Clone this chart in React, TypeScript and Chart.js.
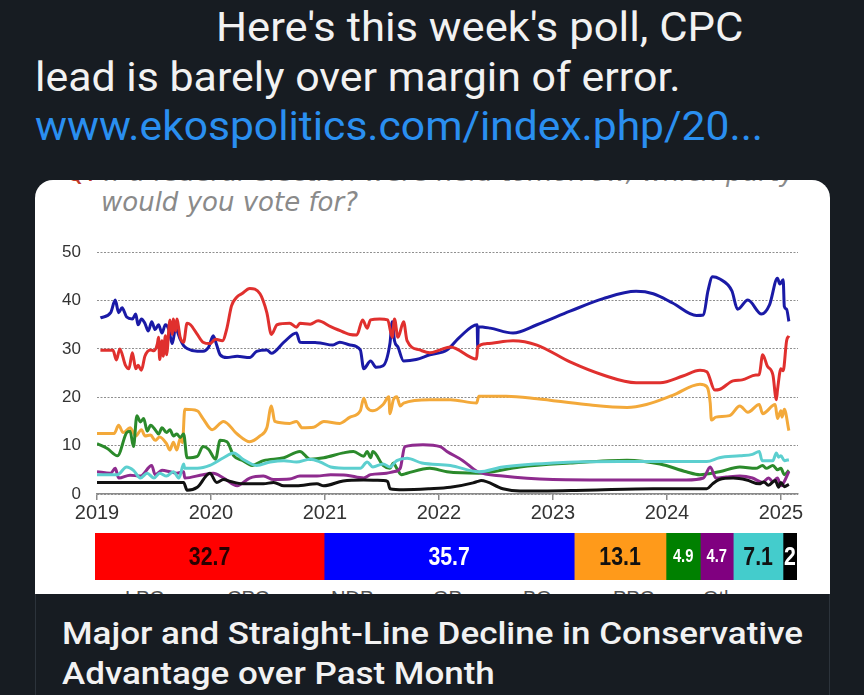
import React, { useEffect, useRef } from "react";
import { Chart, registerables } from "chart.js";
Chart.register(...registerables);

// ---------- data ----------
const YEAR_TICKS = [2019, 2020, 2021, 2022, 2023, 2024, 2025];
const X_MIN = 2019;
const X_MAX = 2025.15;
const Y_MIN = 0;
const Y_MAX = 50;
const Y_STEP = 10;

const PARTIES = ["LPC", "CPC", "NDP", "GP", "BQ", "PPC", "Other"];
const LATEST = [32.7, 35.7, 13.1, 4.9, 4.7, 7.1, 2];

const LPC: [number, number][] = [
  [2019.03, 29.7], [2019.14, 29.7], [2019.17, 27.7], [2019.2, 30], [2019.25, 26.6], [2019.28, 25.9],
  [2019.31, 29.2], [2019.34, 25.9], [2019.36, 26.6], [2019.39, 25.6], [2019.42, 28.5], [2019.47, 29.8],
  [2019.5, 29.6], [2019.53, 31.1], [2019.54, 32.4], [2019.55, 27.8], [2019.57, 31.7], [2019.58, 28.5],
  [2019.6, 32.7], [2019.61, 28.8], [2019.64, 36], [2019.66, 33], [2019.67, 36.2], [2019.69, 33.7],
  [2019.7, 36.2], [2019.73, 32.4], [2019.76, 31.4], [2019.79, 35.3], [2019.82, 35], [2019.88, 33],
  [2019.93, 31.4], [2019.99, 31.1], [2020.04, 32], [2020.1, 31.7], [2020.14, 34.3], [2020.18, 38.9],
  [2020.23, 40.8], [2020.27, 41.4], [2020.34, 42.5], [2020.43, 41.4], [2020.49, 37.5], [2020.53, 33],
  [2020.58, 35], [2020.69, 35.3], [2020.75, 34.5], [2020.78, 35.3], [2020.87, 35.1], [2020.94, 35.8],
  [2021.05, 34.6], [2021.16, 33.5], [2021.22, 33], [2021.28, 32.9], [2021.33, 36], [2021.37, 34.3],
  [2021.4, 36], [2021.48, 36.2], [2021.55, 36], [2021.59, 32.4], [2021.61, 36.2], [2021.64, 32.4],
  [2021.69, 35.6], [2021.72, 31.7], [2021.83, 29.8], [2021.92, 29.2], [2022.01, 29.8], [2022.1, 30.4],
  [2022.33, 27.9], [2022.34, 30.4], [2022.42, 31.1], [2022.65, 31.7], [2022.86, 30.8], [2023.15, 27.3],
  [2023.44, 24.6], [2023.73, 23], [2023.94, 23], [2024.14, 24.4], [2024.29, 25.6], [2024.35, 25.3],
  [2024.42, 21.5], [2024.46, 21.6], [2024.58, 23.4], [2024.66, 23.6], [2024.78, 24.6], [2024.81, 24.7],
  [2024.84, 28.8], [2024.88, 26.5], [2024.93, 24.6], [2024.96, 19.5], [2024.97, 21.5], [2025.0, 25.9],
  [2025.02, 25.5], [2025.05, 31.7], [2025.07, 32.7],
];

const CPC: [number, number][] = [
  [2019.03, 36.4], [2019.12, 37.5], [2019.16, 40.1], [2019.19, 37.5], [2019.22, 38.5], [2019.26, 36.6],
  [2019.31, 36.2], [2019.34, 37.2], [2019.36, 35], [2019.39, 36.2], [2019.42, 35.3], [2019.45, 33.7],
  [2019.48, 35.6], [2019.51, 34], [2019.54, 35], [2019.57, 33.3], [2019.6, 35], [2019.63, 34],
  [2019.66, 31.1], [2019.69, 34.3], [2019.71, 33.3], [2019.73, 32], [2019.76, 30.7], [2019.79, 30.1],
  [2019.88, 29.5], [2019.93, 29.5], [2019.98, 30.4], [2020.02, 32.7], [2020.05, 30.8], [2020.08, 28.8],
  [2020.14, 28.2], [2020.23, 28.5], [2020.34, 28.2], [2020.4, 29.5], [2020.49, 29.8], [2020.53, 29.1],
  [2020.64, 31.4], [2020.75, 33.3], [2020.78, 31.4], [2020.93, 31.3], [2021.07, 30.8], [2021.13, 31.4],
  [2021.22, 30.8], [2021.31, 29.8], [2021.34, 25.9], [2021.4, 27.5], [2021.45, 26.2], [2021.51, 26.5],
  [2021.57, 31.1], [2021.59, 35.6], [2021.61, 31.7], [2021.64, 30.4], [2021.69, 27.5], [2021.8, 27.8],
  [2021.92, 28.8], [2022.07, 29.8], [2022.18, 32.4], [2022.335, 35], [2022.34, 30.4], [2022.345, 34.6],
  [2022.45, 34.3], [2022.65, 33.3], [2022.86, 35], [2023.15, 37.8], [2023.44, 40.4], [2023.73, 41.9],
  [2023.88, 41.4], [2024.05, 39.5], [2024.26, 36.9], [2024.32, 37], [2024.36, 42], [2024.4, 44.9],
  [2024.46, 44.5], [2024.57, 42], [2024.62, 38.2], [2024.71, 40.1], [2024.83, 37.2], [2024.9, 39.1],
  [2024.97, 44.6], [2024.99, 43.4], [2025.02, 44.3], [2025.03, 38.8], [2025.05, 38.2], [2025.07, 35.7],
];

const NDP: [number, number][] = [
  [2019.0, 12.5], [2019.15, 12.5], [2019.19, 14.2], [2019.23, 12.7], [2019.29, 13.7], [2019.34, 12],
  [2019.39, 13.3], [2019.42, 12], [2019.47, 12.2], [2019.51, 11.1], [2019.55, 11.8], [2019.61, 10.4],
  [2019.64, 9.1], [2019.67, 10.7], [2019.7, 9.1], [2019.73, 11.5], [2019.75, 10.6], [2019.77, 17.5],
  [2019.88, 17.2], [2019.93, 15.6], [2020.01, 13.3], [2020.11, 15], [2020.23, 12.4], [2020.34, 10.8],
  [2020.43, 12], [2020.49, 13.7], [2020.53, 18.2], [2020.56, 15], [2020.69, 14.6], [2020.75, 15],
  [2020.8, 13.7], [2020.9, 13.8], [2020.99, 15], [2021.13, 14.6], [2021.22, 15.9], [2021.31, 17.2],
  [2021.34, 19.8], [2021.37, 17.9], [2021.42, 17.2], [2021.51, 18.5], [2021.56, 20.1], [2021.57, 16.6],
  [2021.6, 19.5], [2021.63, 20.1], [2021.66, 18.2], [2021.69, 18.8], [2021.92, 19.5], [2022.1, 19.5],
  [2022.33, 18.8], [2022.35, 20.2], [2022.59, 20.2], [2022.86, 19.7], [2023.29, 18.5], [2023.65, 17.9],
  [2023.82, 18.5], [2024.05, 20.4], [2024.29, 22.7], [2024.35, 22.2], [2024.38, 18.8], [2024.39, 15.3],
  [2024.43, 15.9], [2024.55, 16.2], [2024.64, 18.2], [2024.71, 16.9], [2024.81, 18.5], [2024.84, 16.6],
  [2024.95, 18.5], [2024.97, 15.6], [2025.0, 17.2], [2025.01, 15.9], [2025.03, 17.5], [2025.07, 13.1],
];

const GP: [number, number][] = [
  [2019.0, 10.4], [2019.09, 9.4], [2019.18, 7.9], [2019.26, 12.7], [2019.29, 13], [2019.32, 9.8],
  [2019.35, 16.2], [2019.38, 14.9], [2019.41, 15.6], [2019.44, 13], [2019.47, 14.2], [2019.51, 13.3],
  [2019.54, 12.4], [2019.57, 13.7], [2019.61, 12.7], [2019.64, 13.3], [2019.67, 12], [2019.7, 12.4],
  [2019.73, 11.7], [2019.76, 12.4], [2019.79, 7.5], [2019.88, 7.8], [2019.93, 9.8], [2019.98, 9.2],
  [2020.04, 7.2], [2020.08, 11.1], [2020.14, 10.8], [2020.2, 7.9], [2020.28, 6.9], [2020.36, 5.9],
  [2020.46, 6.9], [2020.64, 7.5], [2020.78, 8.8], [2020.87, 7.2], [2020.99, 7.5], [2021.16, 8.5],
  [2021.25, 8.8], [2021.34, 7.8], [2021.37, 8.8], [2021.4, 7.5], [2021.42, 8.8], [2021.51, 5.9],
  [2021.57, 5.3], [2021.6, 6.4], [2021.63, 5.3], [2021.67, 4], [2021.72, 4.3], [2021.92, 5.3],
  [2022.07, 4.6], [2022.35, 4.3], [2022.71, 5.6], [2023.15, 6.4], [2023.65, 7], [2023.94, 6.2],
  [2024.17, 4.6], [2024.29, 4], [2024.46, 4.6], [2024.64, 5.6], [2024.78, 5.3], [2024.84, 5.9],
  [2024.87, 5.3], [2024.93, 5.9], [2024.97, 5], [2025.0, 5.3], [2025.03, 4], [2025.07, 4.9],
];

const BQ: [number, number][] = [
  [2019.0, 4.6], [2019.12, 4.3], [2019.16, 5.3], [2019.19, 3.3], [2019.29, 3.9], [2019.38, 3.7],
  [2019.48, 5.9], [2019.51, 4], [2019.57, 4.9], [2019.64, 4.6], [2019.7, 4.3], [2019.76, 4.6],
  [2019.77, 3.3], [2019.93, 4], [2020.02, 4.3], [2020.11, 3.3], [2020.23, 1.7], [2020.34, 3.3],
  [2020.46, 3.7], [2020.55, 3], [2020.69, 3.1], [2020.78, 3.7], [2020.93, 3.7], [2021.05, 4],
  [2021.19, 3.9], [2021.34, 3.3], [2021.4, 4], [2021.54, 4.3], [2021.6, 4.6], [2021.66, 5.3],
  [2021.7, 9.8], [2021.86, 10.2], [2022.01, 9.8], [2022.07, 8.8], [2022.21, 6.9], [2022.34, 4.6],
  [2022.56, 3.7], [2023.0, 3], [2023.59, 2.9], [2024.17, 2.9], [2024.32, 3.3], [2024.38, 5.6],
  [2024.43, 3.3], [2024.52, 3.5], [2024.64, 3.7], [2024.75, 3.3], [2024.84, 2.4], [2024.89, 3.3],
  [2024.93, 2.6], [2024.97, 3.3], [2025.0, 1.7], [2025.03, 2.6], [2025.07, 4.7],
];

const PPC: [number, number][] = [
  [2019.0, 4], [2019.18, 4], [2019.26, 5.6], [2019.32, 4.9], [2019.38, 3.3], [2019.44, 4.3],
  [2019.5, 3.3], [2019.55, 4.3], [2019.61, 3.7], [2019.67, 4.6], [2019.72, 3.3], [2019.76, 6.2],
  [2019.77, 5.3], [2019.88, 5.3], [2019.99, 5.9], [2020.11, 7.5], [2020.2, 8.5], [2020.28, 7.2],
  [2020.4, 5.9], [2020.52, 6.6], [2020.64, 6.9], [2020.75, 6.6], [2020.87, 7.2], [2020.96, 6.6],
  [2021.05, 5.6], [2021.22, 5.3], [2021.31, 5.3], [2021.37, 6.6], [2021.42, 5.6], [2021.51, 6.2],
  [2021.57, 5.6], [2021.63, 6.9], [2021.72, 7.4], [2021.85, 6.4], [2022.1, 5.9], [2022.35, 4.6],
  [2022.56, 5.6], [2023.0, 6.4], [2023.59, 6.7], [2024.35, 6.7], [2024.46, 7.5], [2024.64, 7.9],
  [2024.75, 8.2], [2024.81, 8.8], [2024.835, 6.9], [2024.93, 6.9], [2024.96, 8.5], [2024.98, 7.6],
  [2025.0, 7.9], [2025.03, 6.9], [2025.07, 7.1],
];

const OTHER: [number, number][] = [
  [2019.0, 2.4], [2019.76, 2.4], [2019.79, 0.8], [2019.88, 1.4], [2019.99, 4.3], [2020.05, 2.4],
  [2020.11, 3], [2020.17, 2.6], [2020.28, 2.1], [2020.46, 2.1], [2020.55, 2.4], [2020.64, 1.7],
  [2020.75, 1.7], [2020.93, 2.1], [2020.99, 1.7], [2021.16, 2.7], [2021.34, 2.9], [2021.51, 2.8],
  [2021.55, 2.6], [2021.57, 1.1], [2021.69, 0.9], [2021.92, 1.1], [2022.1, 1.4], [2022.3, 2.3],
  [2022.34, 2.6], [2022.37, 2.8], [2022.56, 1.1], [2022.71, 0.6], [2023.29, 0.8], [2023.88, 1.1],
  [2024.35, 1.1], [2024.4, 2.1], [2024.46, 3], [2024.58, 3.3], [2024.7, 2.9], [2024.81, 2.1],
  [2024.85, 2.5], [2024.89, 1.8], [2024.95, 2.8], [2024.98, 1.4], [2025.0, 2.4], [2025.03, 1.5],
  [2025.07, 2],
];

// ---------- styles ----------
const LINE_COLORS: Record<string, string> = {
  LPC: "#e0302e",
  CPC: "#1a1aa6",
  NDP: "#f3a93a",
  GP: "#2b8a2b",
  BQ: "#8e2b8e",
  PPC: "#5ccfcf",
  Other: "#111111",
};
const BAR_COLORS = ["#ff0000", "#0000ff", "#ff9a1a", "#008000", "#800080", "#44cccc", "#000000"];
const BAR_TEXT = ["#2a0000", "#ffffff", "#111111", "#ffffff", "#ffffff", "#111111", "#ffffff"];

const SERIES: { name: string; pts: [number, number][] }[] = [
  { name: "Other", pts: OTHER },
  { name: "PPC", pts: PPC },
  { name: "BQ", pts: BQ },
  { name: "GP", pts: GP },
  { name: "NDP", pts: NDP },
  { name: "LPC", pts: LPC },
  { name: "CPC", pts: CPC },
];

const BG = "#171c22";

function LineChart() {
  const ref = useRef<HTMLCanvasElement | null>(null);
  useEffect(() => {
    if (!ref.current) return;
    const chart = new Chart(ref.current, {
      type: "line",
      data: {
        datasets: SERIES.map((s) => ({
          label: s.name,
          data: s.pts.map(([x, y]) => ({ x, y })),
          borderColor: LINE_COLORS[s.name],
          backgroundColor: LINE_COLORS[s.name],
          borderWidth: 3,
          pointRadius: 0,
          cubicInterpolationMode: "monotone" as const,
          fill: false,
        })),
      },
      options: {
        animation: false,
        responsive: false,
        maintainAspectRatio: false,
        plugins: { legend: { display: false }, tooltip: { enabled: false } },
        layout: { padding: { top: 10, right: 32, left: 0, bottom: 0 } },
        scales: {
          x: {
            type: "linear",
            min: X_MIN,
            max: X_MAX,
            afterBuildTicks: (s: any) => {
              s.ticks = YEAR_TICKS.map((v) => ({ value: v }));
            },
            afterFit: (s: any) => {
              s.height = 32;
            },
            ticks: {
              callback: (v: any) => String(v),
              font: { family: "'Liberation Sans', Arial, sans-serif", size: 20 },
              color: "#333",
              padding: 1,
              maxRotation: 0,
              autoSkip: false,
            },
            grid: { drawOnChartArea: false, drawTicks: true, tickLength: 6, color: "#8a8a8a", lineWidth: 1.5 },
            border: { display: true, color: "#8a8a8a", width: 1.5 },
          },
          y: {
            min: Y_MIN,
            max: Y_MAX,
            afterFit: (s: any) => {
              s.width = 62;
            },
            ticks: {
              stepSize: Y_STEP,
              font: { family: "'Liberation Sans', Arial, sans-serif", size: 17 },
              color: "#333",
              padding: 16,
            },
            grid: { color: "#8f8f8f", drawTicks: false, lineWidth: 1 },
            border: { display: false, dash: [2, 1.5] },
          },
        },
      },
    });
    return () => chart.destroy();
  }, []);
  return (
    <canvas
      ref={ref}
      width={795}
      height={300}
      style={{ position: "absolute", left: 0, top: 46, width: 795, height: 300, display: "block" }}
    />
  );
}

const barLabelPlugin = {
  id: "barLabels",
  afterDatasetsDraw(chart: any) {
    const ctx = chart.ctx;
    chart.data.datasets.forEach((ds: any, i: number) => {
      const meta = chart.getDatasetMeta(i);
      const el = meta.data[0];
      if (!el) return;
      const text = String(ds.data[0]);
      const w = Math.abs(el.x - el.base);
      const cx = (el.x + el.base) / 2;
      const size = w < 40 && text.length > 1 ? 18 : 26;
      ctx.save();
      ctx.translate(cx, el.y + 1);
      ctx.scale(0.82, 1);
      ctx.font = `bold ${size}px 'Liberation Sans', Arial, sans-serif`;
      ctx.fillStyle = BAR_TEXT[i];
      ctx.textAlign = "center";
      ctx.textBaseline = "middle";
      ctx.fillText(text, 0, 0);
      ctx.restore();
    });
  },
};

function BarChart() {
  const ref = useRef<HTMLCanvasElement | null>(null);
  useEffect(() => {
    if (!ref.current) return;
    const total = LATEST.reduce((a, b) => a + b, 0);
    const chart = new Chart(ref.current, {
      type: "bar",
      data: {
        labels: [""],
        datasets: PARTIES.map((p, i) => ({
          label: p,
          data: [LATEST[i]],
          backgroundColor: BAR_COLORS[i],
          borderWidth: 0,
          barPercentage: 1,
          categoryPercentage: 1,
        })),
      },
      options: {
        indexAxis: "y",
        animation: false,
        responsive: false,
        maintainAspectRatio: false,
        plugins: { legend: { display: false }, tooltip: { enabled: false } },
        layout: { padding: 0 },
        scales: {
          x: { stacked: true, min: 0, max: total, display: false },
          y: { stacked: true, display: false },
        },
      },
      plugins: [barLabelPlugin],
    });
    return () => chart.destroy();
  }, []);
  return (
    <canvas
      ref={ref}
      width={702}
      height={47}
      style={{ position: "absolute", left: 60, top: 353, width: 702, height: 47, display: "block" }}
    />
  );
}

const PARTY_LABEL_X = [90, 192, 296, 398, 488, 578, 668];

export default function App() {
  useEffect(() => {
    document.body.style.margin = "0";
    document.body.style.background = BG;
  }, []);
  const tweetFont = "Roboto, 'Noto Sans', sans-serif";
  const tweetLine = (left: number, top: number, color: string, sx: number) => ({
    position: "absolute" as const,
    left,
    top,
    fontSize: 40,
    lineHeight: "48px",
    color,
    whiteSpace: "nowrap" as const,
    transform: `scaleX(${sx})`,
    transformOrigin: "0 0",
  });
  return (
    <div
      style={{
        position: "absolute",
        left: 0,
        top: 0,
        width: 864,
        height: 695,
        background: BG,
        overflow: "hidden",
        fontFamily: tweetFont,
      }}
    >
      <div style={tweetLine(216, 4, "#f2f2f2", 1.09)}>Here's this week's poll, CPC</div>
      <div style={tweetLine(35, 54, "#f2f2f2", 1.072)}>lead is barely over margin of error.</div>
      <div style={tweetLine(35, 103, "#2a8ff0", 1.064)}>www.ekospolitics.com/index.php/20...</div>

      {/* card */}
      <div
        style={{
          position: "absolute",
          left: 35,
          top: 180,
          width: 795,
          height: 530,
          borderRadius: "18px 18px 0 0",
          overflow: "hidden",
          background: BG,
          boxShadow: "inset 0 0 0 1px #2c333b",
        }}
      >
        <div style={{ position: "absolute", left: 0, top: 0, width: 795, height: 414, background: "#ffffff", overflow: "hidden" }}>
          <div
            style={{
              position: "absolute",
              left: 32,
              top: -23,
              fontFamily: "'DejaVu Sans', sans-serif",
              fontStyle: "italic",
              fontWeight: 300,
              fontSize: 26,
              lineHeight: "30px",
              color: "#8a8a8a",
              whiteSpace: "nowrap",
            }}
          >
            <span style={{ color: "#c0392b" }}>Q.</span> If a federal election were held tomorrow, which party
          </div>
          <div
            style={{
              position: "absolute",
              left: 66,
              top: 7,
              fontFamily: "'DejaVu Sans', sans-serif",
              fontStyle: "italic",
              fontWeight: 300,
              fontSize: 26,
              lineHeight: "30px",
              color: "#8a8a8a",
              whiteSpace: "nowrap",
            }}
          >
            would you vote for?
          </div>
          <LineChart />
          <BarChart />
          {PARTIES.map((p, i) => (
            <div
              key={p}
              style={{
                position: "absolute",
                left: PARTY_LABEL_X[i],
                top: 406,
                fontFamily: "'Liberation Sans', Arial, sans-serif",
                fontSize: 20,
                lineHeight: "24px",
                color: "#555",
              }}
            >
              {p}
            </div>
          ))}
        </div>
        <div
          style={{
            position: "absolute",
            left: 27,
            top: 434,
            fontFamily: tweetFont,
            fontWeight: 500,
            fontSize: 31,
            lineHeight: "40px",
            color: "#f2f2f2",
            whiteSpace: "nowrap",
            transform: "scaleX(1.128)",
            transformOrigin: "0 0",
          }}
        >
          Major and Straight-Line Decline in Conservative
          <br />
          Advantage over Past Month
        </div>
      </div>
    </div>
  );
}
